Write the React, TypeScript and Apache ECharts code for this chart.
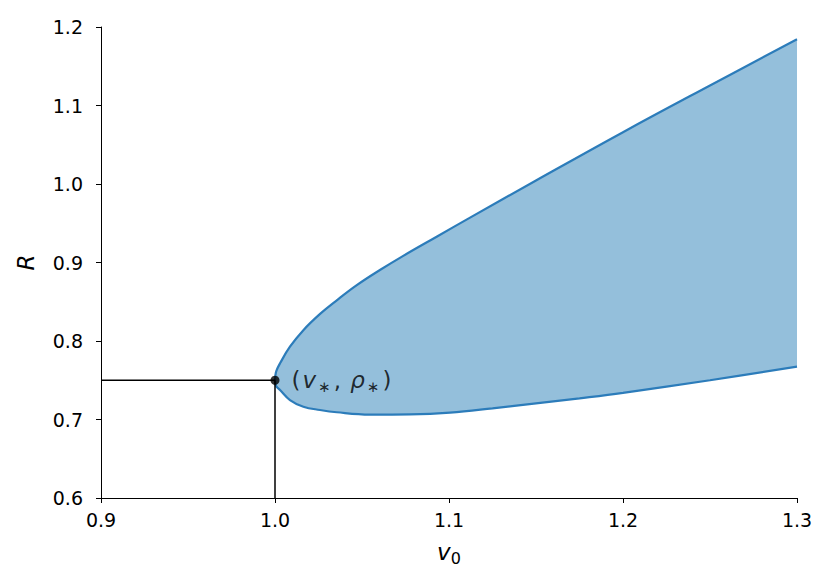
import React, { useEffect, useRef } from "react";
import * as echarts from "echarts";

// Upper branch of the boundary (from the nose outward)
const upperV0 = [1.0, 1.0002, 1.0008, 1.0029, 1.0086, 1.0163, 1.0259, 1.0355, 1.047, 1.0603, 1.0737, 1.0929, 1.1121, 1.15, 1.2, 1.25, 1.3];
const upperR = [0.75, 0.7555, 0.762, 0.7716, 0.7927, 0.8138, 0.8345, 0.8518, 0.8711, 0.8904, 0.9085, 0.9329, 0.9572, 1.0045, 1.066, 1.1255, 1.1843];
// Lower branch of the boundary (from the nose outward)
const lowerV0 = [1.0, 1.0002, 1.0008, 1.0029, 1.0086, 1.0163, 1.0259, 1.0355, 1.0546, 1.0776, 1.1006, 1.125, 1.15, 1.175, 1.2, 1.25, 1.3];
const lowerR = [0.75, 0.7455, 0.742, 0.7376, 0.7248, 0.7163, 0.7121, 0.7092, 0.7063, 0.7066, 0.7088, 0.7142, 0.7205, 0.727, 0.734, 0.75, 0.7673];
// Critical point
const critV0 = 1.0;
const critR = 0.75;
// Axis ranges / ticks
const xMin = 0.9, xMax = 1.3, xStep = 0.1;
const yMin = 0.6, yMax = 1.2, yStep = 0.1;

const FONT = "DejaVu Sans";

export default function App() {
  const ref = useRef<HTMLDivElement>(null);
  useEffect(() => {
    if (!ref.current) return;
    const chart = echarts.init(ref.current, undefined, { renderer: "svg" });
    const upperPts = upperV0.map((v, i) => [v, upperR[i]]);
    const lowerPts = lowerV0.map((v, i) => [v, lowerR[i]]);
    const edge = [...upperPts.slice().reverse(), ...lowerPts.slice(1)];

    chart.setOption({
      animation: false,
      backgroundColor: "#ffffff",
      grid: { left: 101, right: 34, top: 27, bottom: 90, outerBoundsMode: "none" },
      xAxis: {
        type: "value",
        min: xMin,
        max: xMax,
        interval: xStep,
        name: "{i|v}{s|0}",
        nameLocation: "middle",
        nameGap: 40,
        nameTextStyle: {
          rich: {
            i: { fontFamily: FONT, fontStyle: "italic", fontSize: 23, color: "#000", lineHeight: 28, verticalAlign: "middle" },
            s: { fontFamily: FONT, fontSize: 16, color: "#000", lineHeight: 14, verticalAlign: "bottom" },
          },
        },
        axisLine: { show: true, onZero: false, lineStyle: { color: "#000", width: 1 } },
        axisTick: { show: true, inside: false, length: 5, lineStyle: { color: "#000", width: 1 } },
        axisLabel: { fontFamily: FONT, fontSize: 19, color: "#000", margin: 12, formatter: (v: number) => v.toFixed(1) },
        splitLine: { show: false },
      },
      yAxis: {
        type: "value",
        min: yMin,
        max: yMax,
        interval: yStep,
        name: "R",
        nameLocation: "middle",
        nameGap: 64,
        nameRotate: 90,
        nameTextStyle: { fontFamily: FONT, fontStyle: "italic", fontSize: 23, color: "#000" },
        axisLine: { show: true, onZero: false, lineStyle: { color: "#000", width: 1 } },
        axisTick: { show: true, inside: false, length: 5, lineStyle: { color: "#000", width: 1 } },
        axisLabel: { fontFamily: FONT, fontSize: 19, color: "#000", margin: 18, formatter: (v: number) => v.toFixed(1) },
        splitLine: { show: false },
      },
      series: [
        {
          type: "custom",
          silent: true,
          z: 1,
          data: [0],
          renderItem: (_params: any, api: any) => {
            const pts = edge.map((p) => api.coord(p));
            return {
              type: "polygon",
              shape: { points: pts },
              style: { fill: "#94bfdb", stroke: "none" },
            };
          },
        },
        {
          type: "line",
          data: edge,
          smooth: 0.4,
          showSymbol: false,
          z: 2,
          lineStyle: { color: "#2c7cba", width: 2.2 },
        },
        {
          type: "line",
          data: [[xMin, critR], [critV0, critR]],
          showSymbol: false,
          z: 3,
          lineStyle: { color: "#000", width: 1.5 },
        },
        {
          type: "line",
          data: [[critV0, yMin], [critV0, critR]],
          showSymbol: false,
          z: 3,
          lineStyle: { color: "#000", width: 1.5 },
        },
        {
          type: "scatter",
          data: [[critV0, critR]],
          symbolSize: 9,
          z: 4,
          itemStyle: { color: "#000" },
          label: {
            show: true,
            position: "right",
            distance: 12,
            formatter: "{p|(}{i|v}{s|∗}{p|, }{i|ρ}{s|∗}{p|)}",
            rich: {
              p: { fontFamily: FONT, fontSize: 23, color: "#000", lineHeight: 28, verticalAlign: "middle" },
              i: { fontFamily: FONT, fontStyle: "italic", fontSize: 23, color: "#000", lineHeight: 28, verticalAlign: "middle", padding: [0, 1, 0, 2] },
              s: { fontFamily: FONT, fontSize: 15, color: "#000", lineHeight: 22, verticalAlign: "bottom", padding: [0, 3, 0, 1] },
            },
          },
        },
      ],
    });
    return () => chart.dispose();
  }, []);
  return <div ref={ref} style={{ position: "fixed", left: 0, top: 0, width: 831, height: 588, background: "#fff" }} />;
}
